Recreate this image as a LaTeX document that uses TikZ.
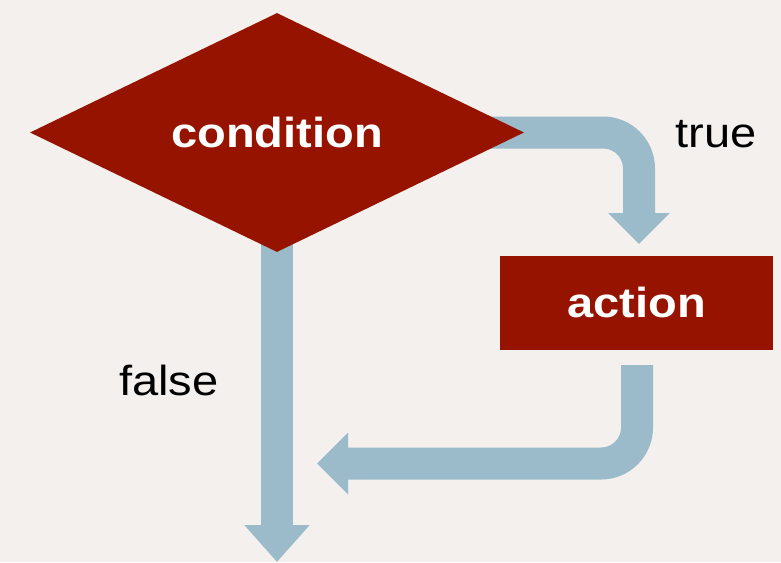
\documentclass[tikz,border=0pt]{standalone}
\usepackage{fontspec}
\setmainfont{Liberation Sans}[FakeStretch=1.12]
\usetikzlibrary{shapes.geometric,arrows.meta}

\definecolor{paper}{RGB}{243,240,237}
\definecolor{boxred}{RGB}{150,19,0}
\definecolor{flowblue}{RGB}{155,187,202}

\pgfdeclarelayer{paperlayer}
\pgfdeclarelayer{flowlayer}
\pgfsetlayers{paperlayer,flowlayer,main}

\tikzset{
  bigtext/.style={font=\fontsize{42}{48}\selectfont},
  decision/.style={diamond, aspect=2.07, minimum width=494pt, minimum height=239pt,
    inner sep=0pt, fill=boxred, text=white, bigtext, font=\bfseries\fontsize{42}{48}\selectfont},
  actionbox/.style={rectangle, minimum width=273pt, minimum height=94pt,
    inner sep=0pt, fill=boxred, text=white, font=\bfseries\fontsize{42}{48}\selectfont},
  lbl/.style={inner sep=0pt, text=black, bigtext},
  flow/.style={draw=flowblue, line width=32pt, rounded corners=36pt, line cap=butt,
    -{Triangle[length=31pt,width=60pt]}},
}

\begin{document}
\begin{tikzpicture}[x=1pt,y=-1pt]
  \begin{pgfonlayer}{paperlayer}
    \fill[paper] (0,0) rectangle (781,562);
  \end{pgfonlayer}
  \useasboundingbox (0,0) rectangle (781,562);

  % boxes
  \node[decision] (cond) at (277,132.5) {condition};
  \node[actionbox] (act) at (636.5,302.5) {action};

  % branch labels
  \node[lbl, anchor=base] (ltrue) at (716,147) {true};
  \node[lbl, anchor=base] (lfalse) at (169,395) {false};

  % arrow ends
  \coordinate (tTip) at (639,244);
  \coordinate (bStart) at (637,365);
  \coordinate (bTip) at (317,463.5);
  \coordinate (fTip) at (277,562);

  % flow arrows, drawn beneath the boxes
  \begin{pgfonlayer}{flowlayer}
    \draw[flow] (cond.center) -| (tTip);
    \draw[flow] (bStart) |- (bTip);
    \draw[flow, -{Triangle[length=37pt,width=63pt]}] (cond.center) -- (fTip);
  \end{pgfonlayer}
\end{tikzpicture}
\end{document}
